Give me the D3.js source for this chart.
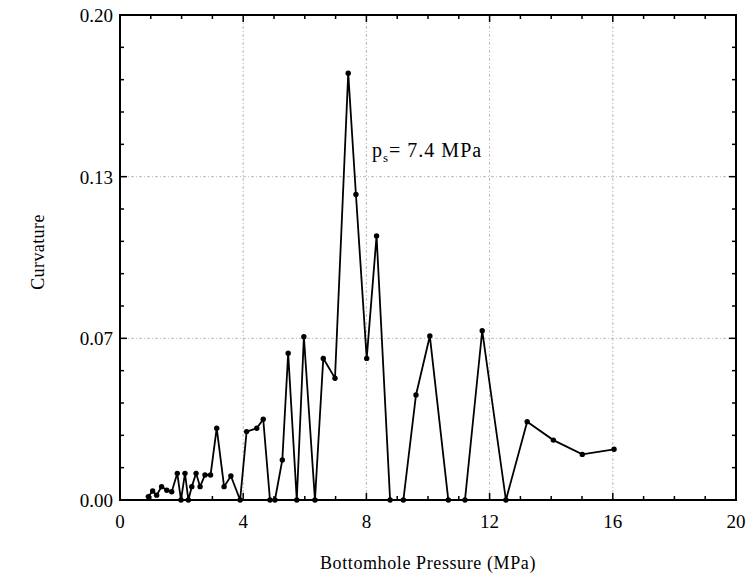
<!DOCTYPE html>
<html>
<head>
<meta charset="utf-8">
<script src="https://cdn.jsdelivr.net/npm/d3@7"></script>
<style>
  body { margin: 0; background: #fff; }
  svg { display: block; font-family: "Liberation Serif", "DejaVu Serif", serif; }
</style>
</head>
<body>
<svg id="chart" width="756" height="576"></svg>
<script>
// bottomhole pressure (MPa) and curvature
const pressure = [0.92, 1.06, 1.19, 1.35, 1.52, 1.68, 1.86, 1.98, 2.11, 2.22, 2.33, 2.47, 2.60, 2.76, 2.94,
  3.14, 3.38, 3.60, 3.90, 4.11, 4.44, 4.65, 4.87, 5.03, 5.27, 5.46, 5.74, 5.97, 6.33, 6.60, 6.98,
  7.41, 7.66, 8.01, 8.33, 8.77, 9.20, 9.61, 10.06, 10.66, 11.20, 11.76, 12.53, 13.22, 14.07, 15.01, 16.04];
const curvature = [0.0014, 0.0037, 0.002, 0.0055, 0.004, 0.0034, 0.011, 0.0, 0.011, 0.0, 0.0055, 0.011, 0.0055, 0.0103, 0.0103,
  0.0296, 0.0055, 0.0099, 0.0, 0.0282, 0.0296, 0.0333, 0.0, 0.0, 0.0165, 0.0605, 0.0, 0.0673, 0.0, 0.0584, 0.0502,
  0.176, 0.126, 0.0584, 0.1089, 0.0, 0.0, 0.0433, 0.0676, 0.0, 0.0, 0.0698, 0.0, 0.0323, 0.0247, 0.0188, 0.0209];

const xTicks = [0, 4, 8, 12, 16, 20];
const yTicks = [0, 0.2 / 3, 0.4 / 3, 0.2];

const svg = d3.select('#chart');
const M_LEFT = 120, M_RIGHT = 736, M_TOP = 15, M_BOTTOM = 500;

const x = d3.scaleLinear().domain([0, 20]).range([M_LEFT, M_RIGHT]);
const y = d3.scaleLinear().domain([0, 0.2]).range([M_BOTTOM, M_TOP]);

const points = pressure.map((p, i) => ({ p: p, c: curvature[i] }));

// grid lines (inner ticks only)
const grid = svg.append('g').attr('stroke', '#aaa').attr('stroke-width', 0.8)
  .attr('stroke-dasharray', '1,2,3,2');
grid.selectAll('line.gx').data(xTicks.slice(1, -1)).join('line')
  .attr('class', 'gx')
  .attr('x1', d => x(d)).attr('x2', d => x(d)).attr('y1', M_TOP).attr('y2', M_BOTTOM);
grid.selectAll('line.gy').data(yTicks.slice(1, -1)).join('line')
  .attr('class', 'gy')
  .attr('x1', M_LEFT).attr('x2', M_RIGHT).attr('y1', d => y(d)).attr('y2', d => y(d));

// ticks pointing inward on all four sides
const xMinor = d3.range(0, 21, 1);
const yMinor = d3.range(0, 16).map(i => i * 0.2 / 15);
const tickLen = (v, majors) => majors.some(m => Math.abs(m - v) < 1e-9) ? 7 : 4;

const ticks = svg.append('g').attr('stroke', '#000').attr('stroke-width', 1.5);
[M_BOTTOM, M_TOP].forEach(yy => {
  const dir = yy === M_BOTTOM ? -1 : 1;
  ticks.append('g').selectAll('line').data(xMinor).join('line')
    .attr('x1', d => x(d)).attr('x2', d => x(d))
    .attr('y1', yy).attr('y2', d => yy + dir * tickLen(d, xTicks));
});
[M_LEFT, M_RIGHT].forEach(xx => {
  const dir = xx === M_LEFT ? 1 : -1;
  ticks.append('g').selectAll('line').data(yMinor).join('line')
    .attr('y1', d => y(d)).attr('y2', d => y(d))
    .attr('x1', xx).attr('x2', d => xx + dir * tickLen(d, yTicks));
});

// frame
svg.append('rect').attr('x', M_LEFT).attr('y', M_TOP)
  .attr('width', M_RIGHT - M_LEFT).attr('height', M_BOTTOM - M_TOP)
  .attr('fill', 'none').attr('stroke', '#000').attr('stroke-width', 2);

// tick labels
svg.append('g').selectAll('text').data(xTicks).join('text')
  .attr('x', d => x(d)).attr('y', M_BOTTOM + 28)
  .attr('text-anchor', 'middle').attr('font-size', 19)
  .text(d => d);
svg.append('g').selectAll('text').data(yTicks).join('text')
  .attr('x', M_LEFT - 7).attr('y', d => y(d) + 7)
  .attr('text-anchor', 'end').attr('font-size', 19)
  .text(d => d.toFixed(2));

// axis titles
svg.append('text').attr('x', x(10)).attr('y', 569)
  .attr('text-anchor', 'middle').attr('font-size', 18).attr('letter-spacing', 0.6)
  .text('Bottomhole Pressure (MPa)');
svg.append('text').attr('transform', `translate(44,252) rotate(-90)`)
  .attr('text-anchor', 'middle').attr('font-size', 18).attr('letter-spacing', 0.4)
  .text('Curvature');

// data line and markers
const line = d3.line().x(d => x(d.p)).y(d => y(d.c));
svg.append('path').datum(points).attr('d', line)
  .attr('fill', 'none').attr('stroke', '#000').attr('stroke-width', 1.8);
svg.append('g').selectAll('circle').data(points).join('circle')
  .attr('cx', d => x(d.p)).attr('cy', d => y(d.c)).attr('r', 2.7).attr('fill', '#000');

// annotation
const ann = svg.append('text').attr('x', 372).attr('y', 157).attr('font-size', 20).attr('letter-spacing', 1);
ann.append('tspan').text('p');
ann.append('tspan').attr('font-size', 13).attr('dy', 5).text('s');
ann.append('tspan').attr('dy', -5).text('= 7.4 MPa');
</script>
</body>
</html>
